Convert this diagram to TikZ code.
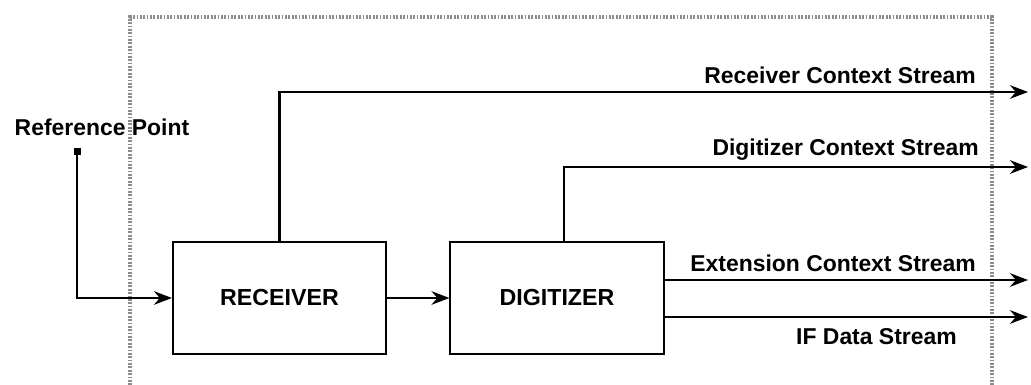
\documentclass[tikz,border=0pt]{standalone}
\usepackage{fontspec}
\setmainfont{Liberation Sans}
\usetikzlibrary{positioning, arrows.meta, calc}
\tikzset{
  blk/.style   = {draw, rectangle, line width=1.3pt, minimum width=5.33cm,
                  minimum height=2.8cm, inner sep=0pt, font=\bfseries\fontsize{16.5}{19}\selectfont},
  ar/.style    = {-{Stealth[length=4.5mm, width=3.4mm]}, line width=1.5pt},
  lbl/.style   = {font=\bfseries\fontsize{16.3}{18}\selectfont, inner sep=0pt, anchor=east},
  frame/.style = {dash pattern=on 1.2pt off 1.2pt, line width=2.2pt, black!45},
  pt/.style    = {draw, fill=black, rectangle, minimum size=1.6mm, inner sep=0pt},
}

\begin{document}
\begin{tikzpicture}[x=0.025cm, y=-0.025cm]
  \useasboundingbox (0,0) rectangle (1031,385);
  % boundary of the unit
  \draw[frame] (130,385) -- (130,17) -- (992,17) -- (992,385);

  \node[blk] (rx) at (279.5,298) {RECEIVER};
  \node[blk] (dg) at (557,298) {DIGITIZER};

  \node[pt] (refpt) at (77,151) {};
  \node[font=\bfseries\fontsize{16.3}{18}\selectfont, inner sep=0pt] (reflbl) at (102,127) {Reference Point};

  % free ends of the output streams
  \coordinate (rcEnd) at (1028,92);
  \coordinate (dcEnd) at (1028,167);
  \coordinate (ecEnd) at (1028,280);
  \coordinate (ifEnd) at (1028,317);

  \draw[ar] (refpt.south) |- (rx.west);
  \draw[ar] (rx.east) -- (dg.west);
  \draw[ar] (rx.north) |- (rcEnd);
  \draw[ar] ([xshift=0.18cm]dg.north) |- (dcEnd);
  \draw[ar] (dg.east |- ecEnd) -- (ecEnd);
  \draw[ar] (dg.east |- ifEnd) -- (ifEnd);

  \node[lbl] (rclbl) at (976,75) {Receiver Context Stream};
  \node[lbl] (dclbl) at (979,150) {Digitizer Context Stream};
  \node[lbl] (eclbl) at (976,263) {Extension Context Stream};
  \node[lbl] (iflbl) at (957,337) {IF Data Stream};
\end{tikzpicture}
\end{document}
